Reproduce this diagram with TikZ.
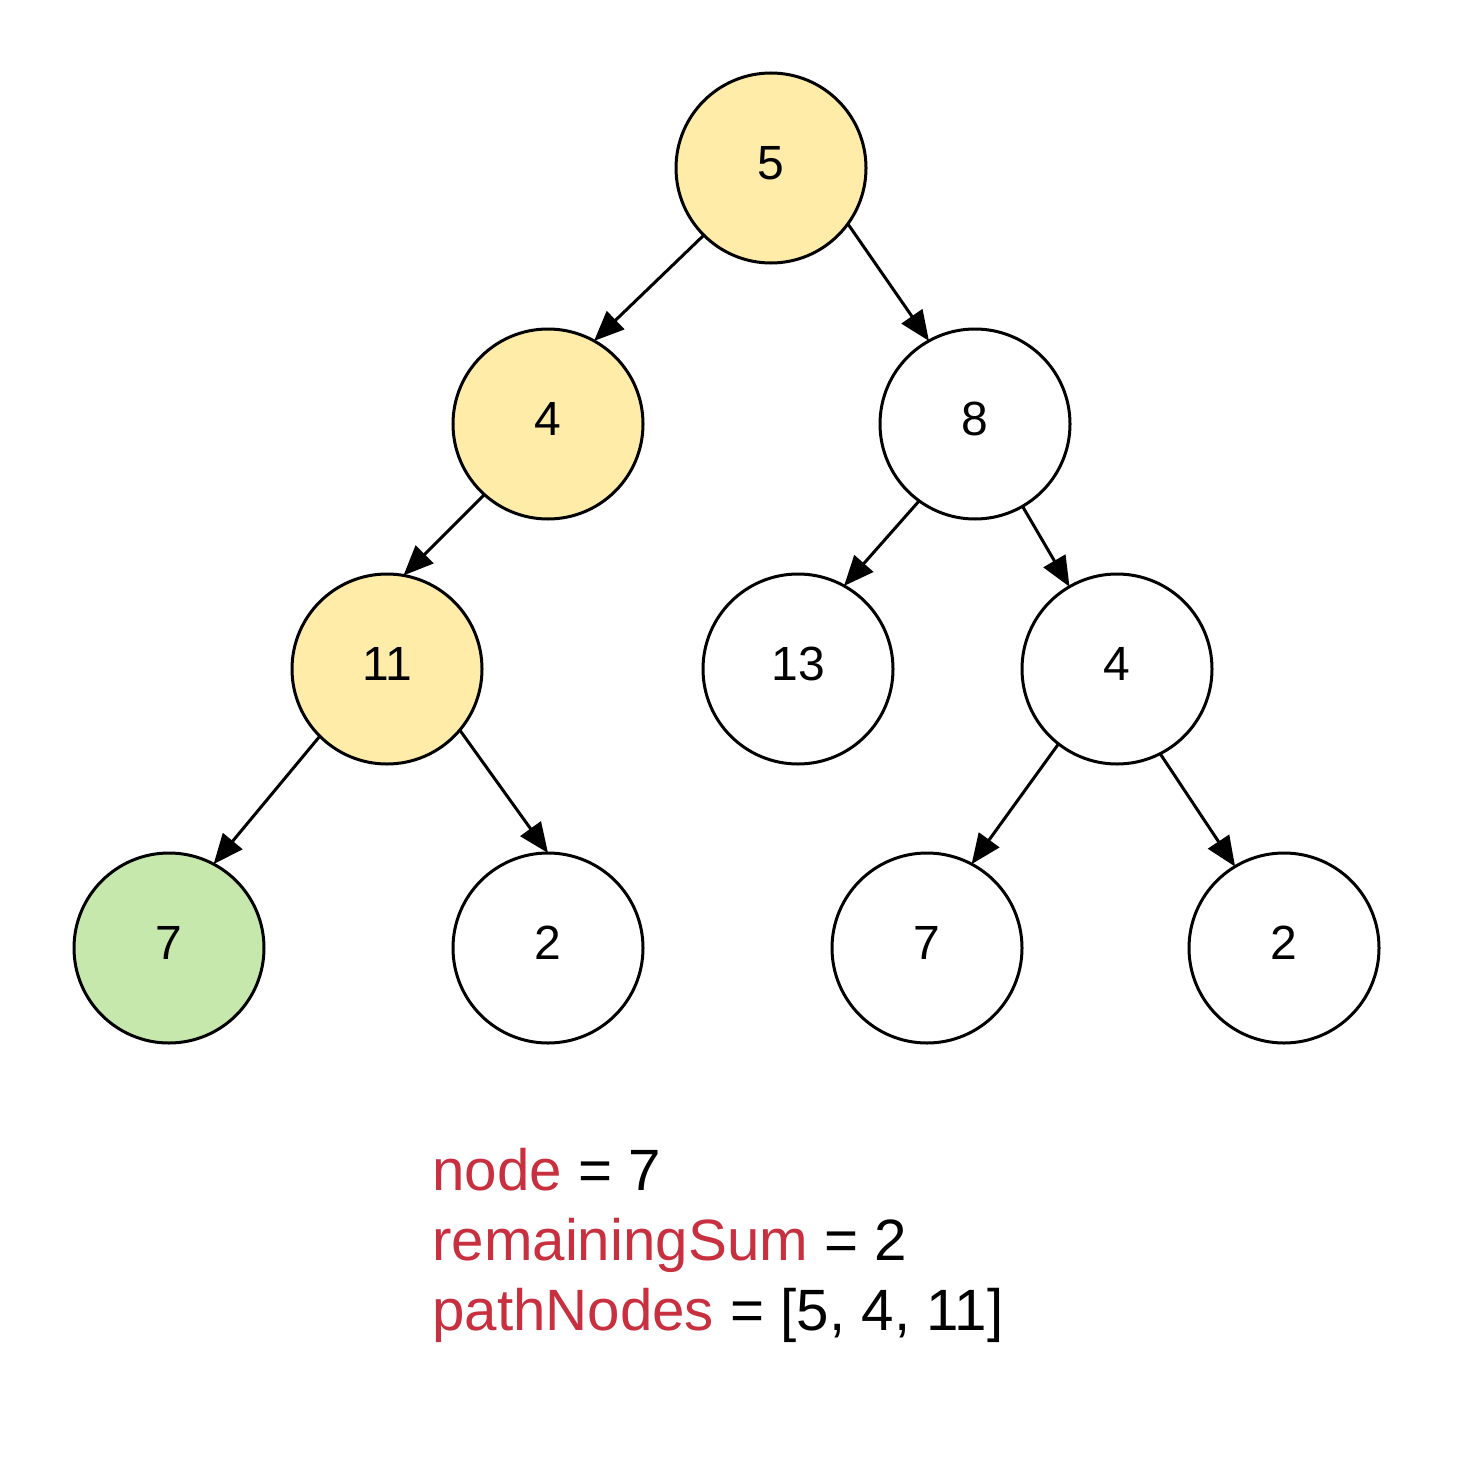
\documentclass[tikz,border=0pt]{standalone}
\usepackage{fontspec}
\setmainfont{Liberation Sans}
\usetikzlibrary{arrows.meta}
\definecolor{pathyellow}{HTML}{FFECA9}
\definecolor{hitgreen}{HTML}{C7E8AD}
\definecolor{varred}{HTML}{C8303F}
\begin{document}
\begin{tikzpicture}[x=1pt,y=-1pt,
  tnode/.style={circle,draw=black,line width=3pt,minimum size=190pt,inner sep=0pt,outer sep=0pt,
    font=\fontsize{48}{57}\selectfont,text depth=10pt,fill=white},
  onpath/.style={tnode,fill=pathyellow},
  found/.style={tnode,fill=hitgreen},
  edge/.style={line width=3pt,-{Triangle[length=30pt,width=25pt]}},
  vartext/.style={anchor=base west,inner sep=0pt,font=\fontsize{58.3}{70}\selectfont}]
\useasboundingbox (0,0) rectangle (1457,1474);
\fill[white] (0,0) rectangle (1457,1474);
\node[onpath] (n5) at (771,168) {5};
\node[onpath] (n4) at (548,424) {4};
\node[tnode] (n8) at (975,424) {8};
\node[onpath] (n11) at (387,669) {11};
\node[tnode] (n13) at (798,669) {13};
\node[tnode] (n4b) at (1117,669) {4};
\node[found] (n7) at (169,948) {7};
\node[tnode] (n2) at (548,948) {2};
\node[tnode] (n7b) at (927,948) {7};
\node[tnode] (n2b) at (1284,948) {2};
\draw[edge] (n5.225) -- (n4.61);
\draw[edge] (n5.324) -- (n8.119);
\draw[edge] (n4.228) -- (n11.80);
\draw[edge] (n8.234) -- (n13.61);
\draw[edge] (n8.300) -- (n4b.120);
\draw[edge] (n11.225) -- (n7.62);
\draw[edge] (n11.320) -- (n2.90);
\draw[edge] (n4b.232) -- (n7b.62);
\draw[edge] (n4b.297) -- (n2b.121);
\node[vartext] (v1) at (432,1190) {\textcolor{varred}{node} = 7};
\node[vartext] (v2) at (432,1260) {\textcolor{varred}{remainingSum} = 2};
\node[vartext] (v3) at (432,1330) {\textcolor{varred}{pathNodes} = [5, 4, 11]};
\end{tikzpicture}
\end{document}
